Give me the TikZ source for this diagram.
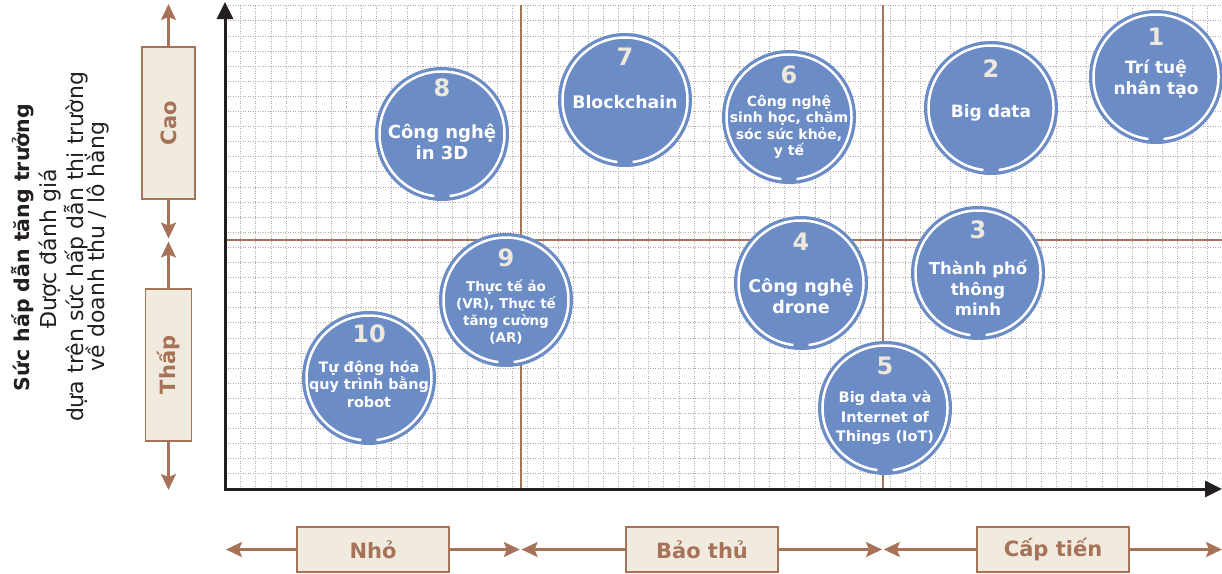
\documentclass[tikz,border=0pt]{standalone}
\usepackage{fontspec}
\setmainfont{DejaVu Sans}
\usetikzlibrary{arrows.meta}
\definecolor{blu}{RGB}{108,140,198}
\definecolor{brn}{RGB}{166,114,88}
\definecolor{bge}{RGB}{241,234,223}
\definecolor{numc}{RGB}{238,232,220}
\definecolor{gridc}{RGB}{184,170,160}
\definecolor{axc}{RGB}{35,31,32}
\newcommand\bub[8]{%
  \node[bubble] (#1) at (#2,#3) {};
  \draw[ring] (#2,#3) ++(97:62.5) arc[start angle=97,end angle=443,radius=62.5];
  \node[numtxt] (#1n) at (#2,#4) {#5};
  \node[bubtxt,font=#7] (#1t) at (#2,#6) {#8};
}
\begin{document}
\begin{tikzpicture}[x=1pt,y=-1pt,
  gridline/.style={draw=gridc, line width=0.8pt, dash pattern=on 1.2pt off 1.3pt},
  divider/.style={draw=brn, line width=1.8pt},
  axis/.style={draw=axc, line width=3pt, {Triangle[length=17pt,width=16pt]}-{Triangle[length=17pt,width=16pt]}},
  lab/.style={draw=brn, fill=bge, line width=1.5pt, text=brn, font=\bfseries\fontsize{21}{25}\selectfont, inner sep=0pt},
  barrow/.style={draw=brn, line width=2.2pt, -{Stealth[length=16pt,width=15pt,inset=3pt]}},
  bubble/.style={circle, fill=blu, minimum size=134pt, inner sep=0pt},
  ring/.style={draw=white, line width=2.5pt},
  numtxt/.style={text=numc, font=\bfseries\fontsize{24}{24}\selectfont, inner sep=0pt},
  bubtxt/.style={text=white, align=center, inner sep=0pt},
  side/.style={rotate=90, text=axc, inner sep=0pt},
]
\useasboundingbox (0,0) rectangle (1222,573);
% grid
\foreach \i in {1,...,65}{\draw[gridline] ({225.6+15.11*\i},5.7) -- ({225.6+15.11*\i},489);}
\foreach \j in {0,...,31}{\draw[gridline] (225,{5.7+15.1*\j}) -- (1222,{5.7+15.1*\j});}
% dividers
\coordinate (vt1) at (520.7,5); \coordinate (vb1) at (520.7,489);
\coordinate (vt2) at (882.7,5); \coordinate (vb2) at (882.7,489);
\coordinate (hl) at (225,240); \coordinate (hr) at (1222,240);
\draw[divider] (vt1) -- (vb1);
\draw[divider] (vt2) -- (vb2);
\draw[divider] (hl) -- (hr);
% axes
\coordinate (O) at (225,489); \coordinate (ytip) at (225,2); \coordinate (xtip) at (1222,489);
\draw[axis] (ytip) -- (O) -- (xtip);
% bubbles
\bub{b1}{1156}{77}{37}{1}{79}{\bfseries\fontsize{17}{21}\selectfont}{Trí tuệ\\nhân tạo}
\bub{b2}{991}{108}{69}{2}{113}{\bfseries\fontsize{17}{21}\selectfont}{Big data}
\bub{b3}{978}{273}{230}{3}{288}{\bfseries\fontsize{16.5}{20.5}\selectfont}{Thành phố\\thông\\minh}
\bub{b4}{801}{283}{242}{4}{296}{\bfseries\fontsize{17.5}{21}\selectfont}{Công nghệ\\drone}
\bub{b5}{885}{408}{366}{5}{418}{\bfseries\fontsize{14.5}{19.5}\selectfont}{Big data và\\Internet of\\Things (IoT)}
\bub{b6}{789}{117}{75}{6}{127}{\bfseries\fontsize{14}{16.5}\selectfont}{Công nghệ\\sinh học, chăm\\sóc sức khỏe,\\y tế}
\bub{b7}{625}{100}{57}{7}{102}{\bfseries\fontsize{17.3}{21}\selectfont}{Blockchain}
\bub{b8}{442}{134}{88}{8}{142}{\bfseries\fontsize{18}{21.5}\selectfont}{Công nghệ\\in 3D}
\bub{b9}{506}{300}{258}{9}{312}{\bfseries\fontsize{13.5}{17.3}\selectfont}{Thực tế ảo\\(VR), Thực tế\\tăng cường\\(AR)}
\bub{b10}{369}{378}{334}{10}{384}{\bfseries\fontsize{14.4}{17.5}\selectfont}{Tự động hóa\\quy trình bằng\\robot}
% left labels
\node[side, font=\bfseries\fontsize{20.5}{24}\selectfont] (t1) at (23,247.5) {Sức hấp dẫn tăng trưởng};
\node[side, font=\fontsize{22}{24}\selectfont] (t2) at (50,249) {Được đánh giá};
\node[side, font=\fontsize{22}{24}\selectfont] (t3) at (76,247) {dựa trên sức hấp dẫn thị trường};
\node[side, font=\fontsize{22}{24}\selectfont] (t4) at (97.5,246.5) {về doanh thu / lô hàng};
% left boxes
\node[lab, rotate=90, minimum width=152pt, minimum height=53pt] (cao) at (168.5,123) {Cao};
\node[lab, rotate=90, minimum width=152pt, minimum height=46pt] (thap) at (168.5,365) {Thấp};
\coordinate (caoT) at (168.5,4); \coordinate (caoB) at (168.5,238.5);
\coordinate (thapT) at (168.5,241.5); \coordinate (thapB) at (168.5,490);
\draw[barrow] (cao.east) -- (caoT);
\draw[barrow] (cao.west) -- (caoB);
\draw[barrow] (thap.east) -- (thapT);
\draw[barrow] (thap.west) -- (thapB);
% bottom boxes
\node[lab, minimum width=152pt, minimum height=45pt] (nho) at (373,549.5) {Nhỏ};
\node[lab, minimum width=152pt, minimum height=45pt] (bao) at (702,549.5) {Bảo thủ};
\node[lab, minimum width=152pt, minimum height=45pt] (cap) at (1053,549.5) {Cấp tiến};
\coordinate (a1) at (226,549.5); \coordinate (a2) at (519.8,549.5);
\coordinate (a3) at (521.6,549.5); \coordinate (a4) at (882,549.5);
\coordinate (a5) at (883.8,549.5); \coordinate (a6) at (1222,549.5);
\draw[barrow] (nho.west) -- (a1);
\draw[barrow] (nho.east) -- (a2);
\draw[barrow] (bao.west) -- (a3);
\draw[barrow] (bao.east) -- (a4);
\draw[barrow] (cap.west) -- (a5);
\draw[barrow] (cap.east) -- (a6);
\end{tikzpicture}
\end{document}
